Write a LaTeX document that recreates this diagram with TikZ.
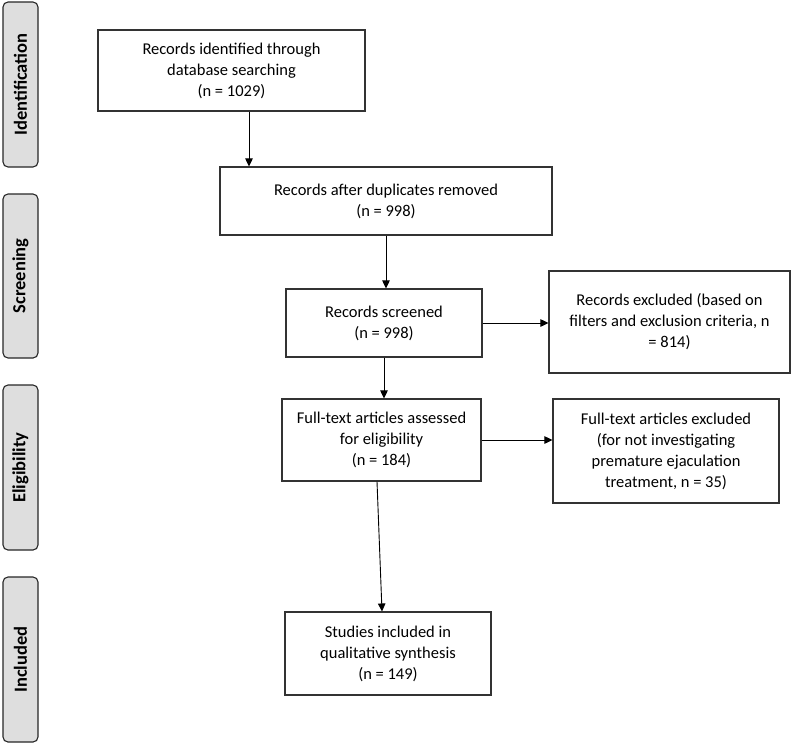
\documentclass[tikz,border=0pt]{standalone}
\usepackage{fontspec}
\setmainfont{Carlito}
\usetikzlibrary{arrows.meta,calc}
\begin{document}
\begin{tikzpicture}[x=1pt,y=-1pt,
  box/.style={draw=black!80,line width=1.1pt,rectangle,inner sep=0pt,align=center,
    font=\fontsize{16.5}{21}\selectfont},
  side/.style={draw=black!85,line width=1.1pt,fill=black!13,rounded corners=5pt,inner sep=0pt,
    minimum width=35pt},
  sidetext/.style={rotate=90,font=\fontsize{18.5}{20}\selectfont\bfseries},
  arr/.style={line width=0.9pt,-{Triangle[length=8pt,width=7.5pt]}}]
\useasboundingbox (0,0) rectangle (800,745);
% side labels
\node[side,minimum height=165pt] (sid) at (20.5,84.5) {};
\node[sidetext] (tid) at (sid.center) {Identification};
\node[side,minimum height=164pt] (ssc) at (20.5,276) {};
\node[sidetext] (tsc) at (ssc.center) {Screening};
\node[side,minimum height=165pt] (sel) at (20.5,467.5) {};
\node[sidetext] (tel) at (sel.center) {Eligibility};
\node[side,minimum height=165pt] (sin) at (20.5,659.5) {};
\node[sidetext] (tin) at (sin.center) {Included};
% main boxes
\node[box,minimum width=267pt,minimum height=81pt] (b1) at (231.5,70.5)
  {Records identified through\\database searching\\(n = 1029)};
\node[box,minimum width=332pt,minimum height=68pt] (b2) at (386,201)
  {Records after duplicates removed\\(n = 998)};
\node[box,minimum width=196pt,minimum height=68pt] (b3) at (384,323)
  {Records screened\\(n = 998)};
\node[box,minimum width=241pt,minimum height=102pt] (e1) at (669.5,322)
  {Records excluded (based on\\filters and exclusion criteria, n\\= 814)};
\node[box,minimum width=199pt,minimum height=82pt] (b4) at (381.5,440)
  {Full-text articles assessed\\for eligibility\\(n = 184)};
\node[box,minimum width=226pt,minimum height=104pt] (e2) at (666,451)
  {Full-text articles excluded\\(for not investigating\\premature ejaculation\\treatment, n = 35)};
\node[box,minimum width=206pt,minimum height=83pt] (b5) at (388,653.5)
  {Studies included in\\qualitative synthesis\\(n = 149)};
% arrows
\draw[arr] ([xshift=17.5pt]b1.south) -- ([xshift=17.5pt]b1.south |- b2.north);
\draw[arr] (b2.south) -- (b2.south |- b3.north);
\draw[arr] (b3.east) -- (b3.east -| e1.west);
\draw[arr] (b3.south) -- (b3.south |- b4.north);
\draw[arr] (b4.east) -- (b4.east -| e2.west);
\draw[arr] ([xshift=-4.5pt]b4.south) -- ([xshift=-6pt]b5.north);
\end{tikzpicture}
\end{document}
